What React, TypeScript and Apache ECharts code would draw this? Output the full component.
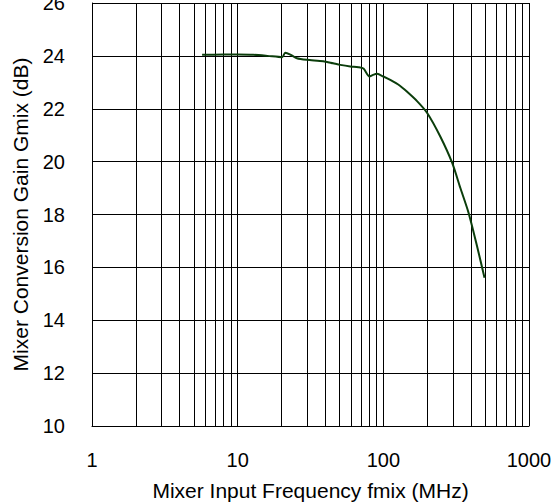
import React, { useEffect, useRef } from "react";
import * as echarts from "echarts";

const freqMHz = [5.7, 8, 10, 12.8, 16, 20.2, 21.2, 23, 25.5, 29.8, 38.7, 45.2, 50.6, 59.3, 67.4, 73, 80.3, 85, 90.5, 100, 111.6, 130, 145, 171, 200, 246, 297, 338, 385, 440, 495];
const gainDb = [24.04, 24.05, 24.05, 24.04, 24.0, 23.95, 24.12, 24.05, 23.91, 23.85, 23.8, 23.72, 23.66, 23.6, 23.57, 23.52, 23.22, 23.28, 23.32, 23.22, 23.09, 22.87, 22.65, 22.28, 21.84, 20.95, 19.95, 19.0, 18.06, 16.8, 15.61];
const minorFreqs = [2, 3, 4, 5, 6, 7, 8, 9, 20, 30, 40, 50, 60, 70, 80, 90, 200, 300, 400, 500, 600, 700, 800, 900];
const yTicks = [10, 12, 14, 16, 18, 20, 22, 24, 26];

const FONT = "'Liberation Sans', Arial, sans-serif";

export default function App() {
  const ref = useRef<HTMLDivElement>(null);
  useEffect(() => {
    if (!ref.current) return;
    const chart = echarts.init(ref.current, undefined, { renderer: "svg" });
    chart.setOption({
      animation: false,
      backgroundColor: "#fff",
      grid: {
        left: 92,
        right: 24,
        top: 3,
        bottom: 77,
        containLabel: false,
        outerBoundsMode: "none",
      },
      xAxis: {
        type: "log",
        logBase: 10,
        min: 1,
        max: 1000,
        name: "Mixer Input Frequency fmix (MHz)",
        nameLocation: "middle",
        nameGap: 54,
        nameTextStyle: { color: "#000", fontSize: 21, fontFamily: FONT },
        axisLine: { show: true, lineStyle: { color: "#000", width: 1 } },
        axisTick: { show: false },
        axisLabel: {
          color: "#000",
          fontSize: 20,
          fontFamily: FONT,
          margin: 24,
          formatter: (v: number) => String(Math.round(v)),
        },
        splitLine: { show: true, lineStyle: { color: "#000", width: 1 } },
      },
      yAxis: {
        type: "value",
        min: yTicks[0],
        max: yTicks[yTicks.length - 1],
        interval: 2,
        name: "Mixer Conversion Gain Gmix (dB)",
        nameLocation: "middle",
        nameGap: 61,
        nameTextStyle: { color: "#000", fontSize: 21, fontFamily: FONT },
        axisLine: { show: true, lineStyle: { color: "#000", width: 1 } },
        axisTick: { show: false },
        axisLabel: { color: "#000", fontSize: 20, fontFamily: FONT, margin: 27 },
        splitLine: { show: true, lineStyle: { color: "#000", width: 1 } },
      },
      series: [
        {
          type: "line",
          data: [],
          silent: true,
          z: 1,
          markLine: {
            silent: true,
            symbol: "none",
            animation: false,
            label: { show: false },
            lineStyle: { color: "#000", width: 1, type: "solid" },
            emphasis: { disabled: true },
            data: minorFreqs.map((f) => ({ xAxis: f })),
          },
        },
        {
          type: "line",
          z: 5,
          data: freqMHz.map((f, i) => [f, gainDb[i]]),
          showSymbol: false,
          smooth: 0.25,
          lineStyle: { color: "#0b3d0b", width: 2 },
        },
      ],
    });
    return () => chart.dispose();
  }, []);
  return (
    <div
      ref={ref}
      style={{ position: "absolute", left: 0, top: 0, width: 553, height: 503 }}
    />
  );
}
